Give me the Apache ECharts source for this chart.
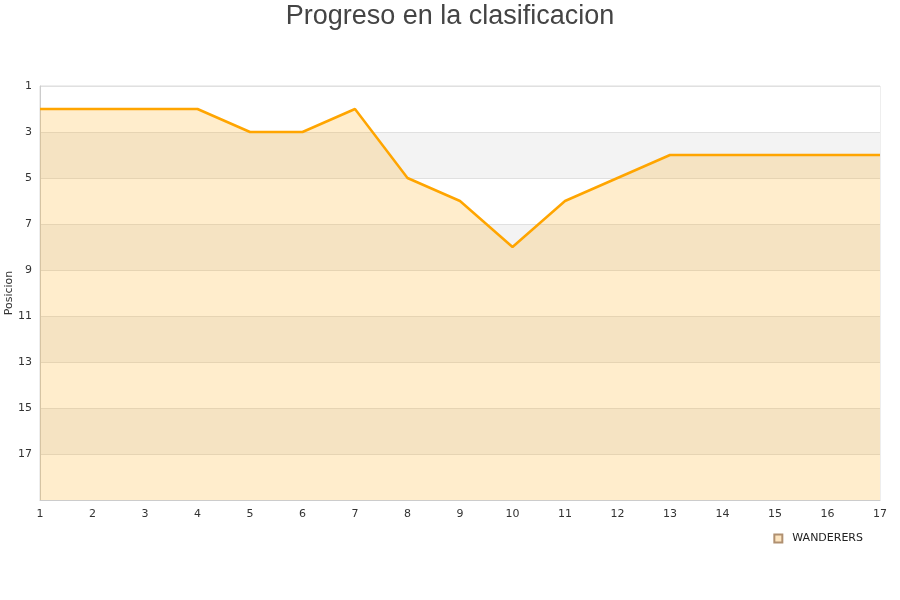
<!DOCTYPE html>
<html><head><meta charset="utf-8">
<script src="https://cdn.jsdelivr.net/npm/echarts@6/dist/echarts.min.js"></script>
<style>html,body{margin:0;padding:0;background:#fff}#c{width:900px;height:600px}</style>
</head><body><div id="c"></div>
<script>
var jornadas = [1,2,3,4,5,6,7,8,9,10,11,12,13,14,15,16,17];
var posiciones = [2,2,2,2,3,3,2,5,6,8,6,5,4,4,4,4,4];
var equipo = 'WANDERERS';
var chart = echarts.init(document.getElementById('c'));
chart.setOption({
  animation:false,
  title:{text:'Progreso en la clasificacion',left:'center',top:-2,textStyle:{fontSize:27,fontWeight:'normal',color:'#444',fontFamily:'Liberation Sans'}},
  grid:{left:40,right:20,top:86,bottom:100,show:true,borderColor:'#ddd',borderWidth:1,containLabel:false,outerBoundsMode:'none'},
  legend:{data:[{name:equipo,icon:'rect'}],right:32,top:528,itemWidth:8,itemHeight:8,
    textStyle:{fontSize:11,color:'#222',fontFamily:'DejaVu Sans',padding:[0,0,0,5]}},
  xAxis:{type:'value',min:1,max:17,interval:1,
    axisLine:{lineStyle:{color:'#ccc'}},axisTick:{show:false},
    axisLabel:{color:'#333',fontSize:11,margin:9,fontFamily:'DejaVu Sans'},splitLine:{show:false}},
  yAxis:{type:'value',inverse:true,min:1,max:19,interval:2,name:'Posicion',nameLocation:'middle',nameGap:25,nameMoveOverlap:false,
    nameTextStyle:{fontSize:11,color:'#333',fontFamily:'DejaVu Sans'},
    axisLine:{show:true,lineStyle:{color:'#ccc'}},axisTick:{show:false},
    axisLabel:{color:'#333',fontSize:11,showMaxLabel:false,fontFamily:'DejaVu Sans',margin:8},
    splitLine:{show:true,lineStyle:{color:'#e0e0e0'}},
    splitArea:{show:true,areaStyle:{color:['#ffffff','#f3f3f3']}}},
  series:[{name:equipo,type:'line',data:jornadas.map(function(j,i){return [j,posiciones[i]];}),
    showSymbol:false,symbol:'none',
    lineStyle:{color:'#FFA500',width:2.5},itemStyle:{color:'#fde5c0',borderColor:'#b09070',borderWidth:1},
    areaStyle:{color:'rgba(255,165,0,0.2)',opacity:1,origin:'end'}}]
});
</script></body></html>
